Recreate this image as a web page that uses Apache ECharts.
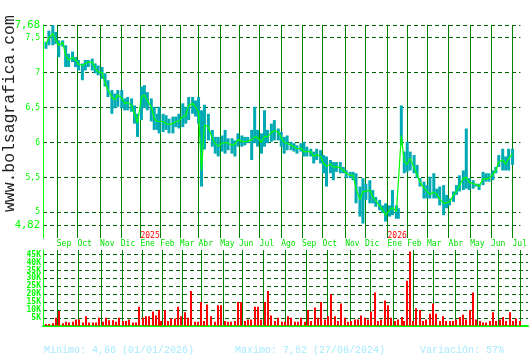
<!DOCTYPE html>
<html><head><meta charset="utf-8">
<script src="https://cdn.jsdelivr.net/npm/echarts@6/dist/echarts.min.js"></script>
<style>html,body{margin:0;padding:0;background:#fff}#c{width:530px;height:360px}</style>
</head><body><div id="c"></div>
<script>
// trading-day index of each sample (0 = left edge of the chart)
const days = [3,6,10,13,16,20,23,26,30,33,36,40,43,46,50,53,56,60,63,66,70,73,76,80,83,86,90,93,96,100,103,106,110,113,116,
118,122,125,128,132,135,138,142,145,148,152,155,158,
161,164,
168,172,175,178,182,185,188,192,195,198,202,205,208,212,215,218,222,225,228,232,235,239,
242,245,248,252,255,258,262,265,268,272,275,278,282,285,288,292,295,298,302,305,308,312,315,318,322,325,328,332,335,338,342,345,348,352,355,359,
361,364,367,370,373,377,380,383,387,390,393,397,400,403,407,410,413,417,420,423,427,430,433,437,440,443,447,450,453,457,460,463,467,470,473,477];
const highs = [7.44,7.60,7.68,7.58,7.46,7.46,7.39,7.27,7.30,7.22,7.18,7.13,7.18,7.18,7.20,7.13,7.10,7.08,6.99,6.89,6.75,6.70,6.75,6.75,6.63,6.65,6.63,6.53,6.41,6.80,6.82,6.72,6.63,6.51,6.41,
6.51,6.41,6.39,6.34,6.37,6.37,6.41,6.56,6.51,6.65,6.65,6.60,6.65,
6.46,6.54,
6.41,6.18,6.08,6.08,6.10,6.18,6.06,6.06,6.03,6.13,6.10,6.08,6.08,6.18,6.51,6.18,6.13,6.46,6.18,6.27,6.32,6.20,
6.15,6.08,6.10,6.01,5.99,5.96,5.99,6.01,5.94,5.91,5.87,5.91,5.89,5.82,5.80,5.75,5.72,5.72,5.72,5.65,5.60,5.58,5.58,5.56,5.37,5.49,5.41,5.46,5.32,5.22,5.18,5.10,5.13,5.10,5.32,5.10,
5.06,6.53,5.87,6.01,5.87,5.82,5.68,5.49,5.44,5.39,5.51,5.56,5.34,5.37,5.39,5.25,5.20,5.30,5.39,5.53,5.60,6.20,5.49,5.46,5.41,5.41,5.58,5.56,5.56,5.60,5.65,5.82,5.91,5.80,5.91,5.91];
const lows = [7.34,7.39,7.39,7.41,7.22,7.37,7.08,7.08,7.15,7.08,7.03,6.89,7.03,7.08,7.03,6.99,6.96,6.91,6.80,6.65,6.41,6.49,6.51,6.49,6.46,6.46,6.44,6.27,6.08,6.32,6.49,6.46,6.30,6.18,6.18,
6.13,6.15,6.18,6.13,6.13,6.22,6.20,6.22,6.27,6.32,6.41,6.37,6.27,
5.37,5.90,
6.03,5.94,5.84,5.80,5.87,5.84,5.89,5.84,5.80,5.94,5.94,5.96,5.99,5.75,5.99,5.94,5.84,5.94,5.99,6.01,6.03,6.03,
5.94,5.84,5.89,5.89,5.87,5.84,5.87,5.80,5.80,5.80,5.70,5.75,5.70,5.56,5.37,5.56,5.46,5.58,5.56,5.56,5.49,5.49,5.46,5.13,4.94,4.84,5.18,5.13,5.13,5.08,5.03,4.99,4.87,4.94,4.96,4.91,
4.91,5.96,5.56,5.58,5.60,5.56,5.49,5.37,5.20,5.20,5.20,5.20,5.20,5.10,4.96,5.06,5.10,5.15,5.25,5.30,5.32,5.34,5.32,5.34,5.37,5.32,5.39,5.44,5.44,5.46,5.56,5.65,5.60,5.60,5.60,5.68];
const closes = [7.41,7.50,7.56,7.46,7.39,7.43,7.25,7.18,7.22,7.18,7.12,7.10,7.13,7.15,7.15,7.06,7.01,7.00,6.85,6.75,6.65,6.61,6.68,6.63,6.56,6.57,6.53,6.41,6.28,6.65,6.68,6.60,6.51,6.34,6.30,
6.32,6.30,6.27,6.26,6.27,6.30,6.31,6.37,6.38,6.53,6.56,6.51,6.44,
5.60,6.25,
6.22,6.06,5.98,5.95,5.99,6.00,5.99,5.96,5.98,6.04,6.02,6.01,6.02,6.04,6.08,6.07,6.00,6.09,6.08,6.14,6.17,6.15,
6.07,6.00,5.99,5.96,5.94,5.91,5.92,5.87,5.87,5.87,5.80,5.83,5.80,5.70,5.66,5.69,5.65,5.65,5.64,5.60,5.56,5.53,5.53,5.34,5.18,5.30,5.30,5.32,5.22,5.17,5.09,5.04,4.96,5.03,5.07,5.01,
5.00,6.10,5.72,5.69,5.77,5.64,5.54,5.43,5.35,5.30,5.26,5.29,5.26,5.19,5.13,5.14,5.15,5.25,5.30,5.38,5.49,5.50,5.43,5.41,5.40,5.37,5.48,5.48,5.49,5.54,5.60,5.72,5.75,5.69,5.77,5.84];
// volume in thousands of shares
const volumes = [1,1,1.5,5,9.4,1.5,2.5,2,2.5,4,4,2,6,2,2,2,5,2.5,5,3.5,3.5,2.5,5,3,3,4,2,2,12,5,6,6,9,6.5,10,
3,10,3,4.5,4.5,12,6,8.5,5,22,2.5,2.5,15,
3,13.5,
6,2.5,13,13,3,2.5,2.5,3,15,15,3,4,4,12,12,4,15,22,6.5,3,5,2.5,
2.5,6,5,2.5,2.5,5,2.5,10,3,11.5,5,15,4,6,20,6,3,14,5,2.5,3,4,4,6.5,5,4,9,21,3,4,16,13,5,3,4,5.5,
3,28.5,47,3,11,10,3,4,7.5,14,7.5,3,6,3,3,3,4,5.5,7,4,10,21,4,3,2,2,3,8.5,3,4,5.5,3,8.5,3,4.5,3];
const monthTicks = [14,35,58,79,99,119,139,158,180,199,220,242,263,284,307,327,350,370,390,412,434,455,477];
const monthNames = ['Sep','Oct','Nov','Dic','Ene','Feb','Mar','Abr','May','Jun','Jul','Ago','Sep','Oct','Nov','Dic','Ene','Feb','Mar','Abr','May','Jun','Jul'];
const yearTicks = [99,350];
const yearNames = ['2025','2026'];
const priceTicks = [4.82,5,5.5,6,6.5,7,7.5,7.68];
const volumeTicks = [5,10,15,20,25,30,35,40,45];
const statsTexts = ['Minimo: 4,86 (01/01/2026)','Maximo: 7,62 (27/08/2024)','Variación: 57%'];
const siteText = 'www.bolsagrafica.com';

const MONO = '"DejaVu Sans Mono", "Liberation Mono", monospace';
const THIN = '"Liberation Mono", "DejaVu Sans Mono", monospace';
const chart = echarts.init(document.getElementById('c'), null, {renderer:'canvas'});
const hlData = days.map((d,i)=>[d, lows[i], highs[i]]);
const closeData = days.map((d,i)=>[d, closes[i]]);
const volData = days.map((d,i)=>[d, volumes[i]]);
const fmtPrice = v => String(+(+v).toFixed(2)).replace('.', ',');

chart.setOption({
  animation:false,
  backgroundColor:'#ffffff',
  grid:[{left:43,right:2,top:25,height:213},{left:43,right:2,top:250,height:75.7}],
  xAxis:[
    {gridIndex:0,type:'value',min:0,max:485,
     axisLine:{show:false},axisTick:{show:false,customValues:monthTicks},
     axisLabel:{customValues:monthTicks,formatter:v=>monthNames[monthTicks.indexOf(v)]||'',color:'#00e000',fontFamily:MONO,fontSize:8,align:'left',margin:2,showMinLabel:true,showMaxLabel:true,hideOverlap:false},
     splitLine:{show:true,lineStyle:{color:'#008000',width:1}}},
    {gridIndex:0,type:'value',min:0,max:485,position:'bottom',offset:-8.5,
     axisLine:{show:false},axisTick:{show:false,customValues:yearTicks},
     axisLabel:{customValues:yearTicks,formatter:v=>yearNames[yearTicks.indexOf(v)]||'',color:'#ff0000',fontFamily:MONO,fontSize:8,align:'left',margin:2},
     splitLine:{show:false}},
    {gridIndex:1,type:'value',min:0,max:485,
     axisLine:{show:true,lineStyle:{color:'#00ff00',width:2}},axisTick:{show:false,customValues:monthTicks},
     axisLabel:{show:false},
     splitLine:{show:true,lineStyle:{color:'#008000',width:1}}}
  ],
  yAxis:[
    {gridIndex:0,type:'value',min:4.634,max:7.68,
     axisLine:{show:true,lineStyle:{color:'#00ff00',width:1}},axisTick:{show:false,customValues:priceTicks},
     axisLabel:{customValues:priceTicks,margin:3,showMinLabel:true,showMaxLabel:true,hideOverlap:false,
       formatter:v=>{const s=fmtPrice(v);return (Math.abs(v-4.82)<1e-6||Math.abs(v-7.68)<1e-6)?'{b|'+s+'}':'{s|'+s+'}';},
       rich:{b:{fontFamily:MONO,fontSize:10.5,color:'#00ff00'},s:{fontFamily:MONO,fontSize:8,color:'#00ff00'}}},
     splitLine:{show:true,lineStyle:{color:'#006400',width:1,type:[4,3]}}},
    {gridIndex:1,type:'value',min:0,max:48,
     axisLine:{show:true,lineStyle:{color:'#00ff00',width:1}},axisTick:{show:false,customValues:volumeTicks},
     axisLabel:{customValues:volumeTicks,margin:2,showMinLabel:true,showMaxLabel:true,hideOverlap:false,
       formatter:v=>v+'K',color:'#00ff00',fontFamily:MONO,fontSize:8,fontWeight:'bold',lineHeight:8},
     splitLine:{show:true,lineStyle:{color:'#006400',width:1,type:[4,3]}}}
  ],
  series:[
    {type:'custom',xAxisIndex:0,yAxisIndex:0,data:hlData,encode:{x:0,y:[1,2]},
     renderItem:(params,api)=>{
       const hi=api.coord([api.value(0),api.value(2)]);
       const lo=api.coord([api.value(0),api.value(1)]);
       const w=3;
       return {type:'rect',shape:{x:hi[0]-w/2,y:hi[1],width:w,height:Math.max(1,lo[1]-hi[1])},style:{fill:'#00aab4'}};
     }},
    {type:'line',xAxisIndex:0,yAxisIndex:0,data:closeData,showSymbol:false,lineStyle:{color:'#00ff00',width:1.2},z:3},
    {type:'bar',xAxisIndex:2,yAxisIndex:1,data:volData,barWidth:2,itemStyle:{color:'#ff0000'}}
  ],
  graphic:[
    {type:'text',left:44,top:345,style:{text:statsTexts[0],font:'10px '+THIN,fill:'#a8eaff'}},
    {type:'text',left:235,top:345,style:{text:statsTexts[1],font:'10px '+THIN,fill:'#a8eaff'}},
    {type:'text',left:420,top:345,style:{text:statsTexts[2],font:'10px '+THIN,fill:'#a8eaff'}},
    {type:'text',x:18,y:212,rotation:Math.PI/2,style:{text:siteText,font:'16.4px '+THIN,fill:'#222222',textAlign:'left',textVerticalAlign:'bottom'}}
  ]
});
</script></body></html>
